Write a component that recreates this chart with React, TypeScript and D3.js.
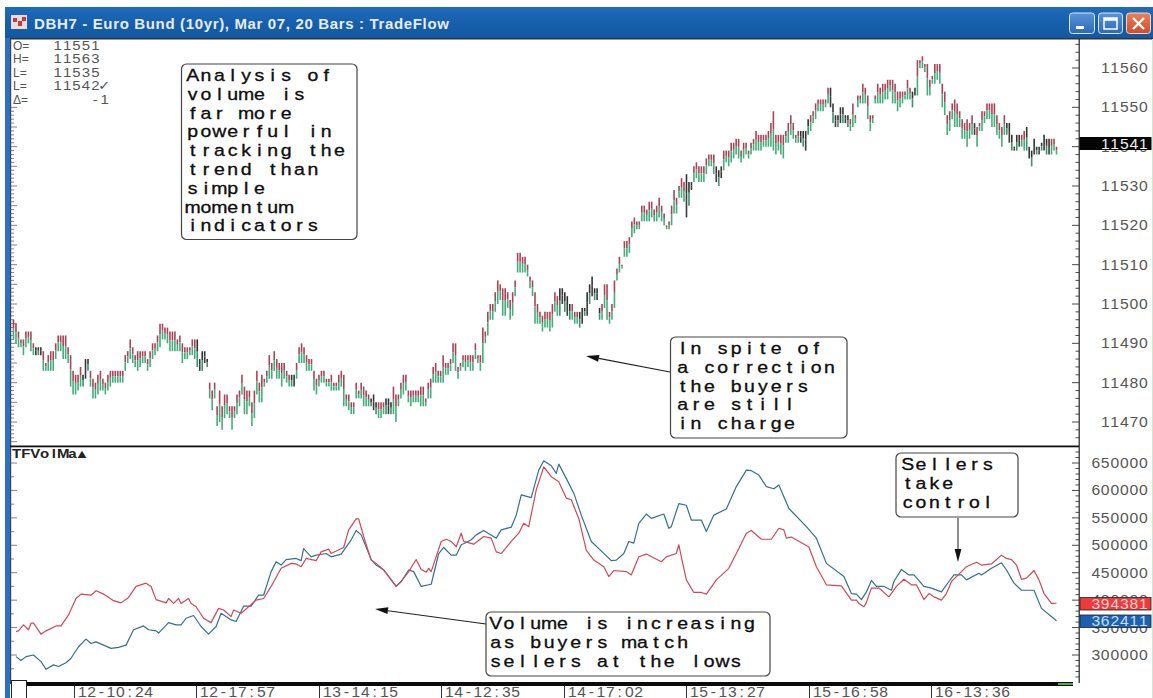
import React from "react";
import * as d3 from "d3";

const W = 1153, H = 698;
const priceBase = 11000;

const barHighs = [
496,495,493,491,491,493,493,493,490,489,489,489,488,485,487,488,488,490,492,492,492,492,489,487,483,482,482,484,482,486,486,483,481,480,482,483,481,480,482,483,483,483,483,483,483,487,488,491,489,487,488,488,488,488,486,488,490,490,492,495,495,494,494,493,493,493,491,492,490,489,489,489,491,491,491,486,488,488,486,
480,478,480,474,478,474,477,477,474,474,474,477,478,482,479,478,478,475,478,483,480,482,481,483,487,485,488,486,485,485,485,483,482,482,482,485,489,490,489,487,486,486,483,481,482,483,483,481,481,482,480,480,482,483,482,477,477,475,475,480,478,480,479,478,477,476,477,475,475,475,475,476,476,475,479,477,
477,480,482,482,478,478,478,478,478,479,479,476,480,481,484,485,483,483,487,485,485,486,490,490,484,485,487,487,487,487,487,490,487,487,494,493,498,500,500,503,506,505,504,504,503,501,503,506,513,513,512,512,510,507,506,503,500,498,497,498,498,498,500,503,502,504,504,503,502,500,500,498,498,498,499,499,503,505,507,504,504,499,500,505,505,498,500,506,509,512,510,516,516,517,
521,522,521,521,525,525,524,526,526,524,525,527,525,523,520,521,525,529,527,530,532,531,533,531,531,535,536,535,535,535,537,538,538,538,535,534,535,539,539,539,541,541,542,542,539,541,541,539,541,542,544,543,543,543,543,544,546,549,543,543,543,543,544,546,548,546,543,544,544,544,544,547,548,549,551,552,552,552,552,555,555,551,548,548,550,550,548,548,547,551,548,553,553,556,555,553,548,548,553,556,555,556,556,557,557,557,556,
554,554,554,554,557,555,554,555,562,562,563,561,561,557,558,561,561,561,556,554,548,549,551,552,551,549,547,546,547,546,548,546,545,546,549,549,551,551,551,551,548,546,545,548,546,546,543,540,543,543,543,544,545,540,539,542,540,540,541,543,542,542,542,542,540];

const barLows = [
491,490,489,489,487,489,490,488,487,487,487,487,483,483,483,483,483,486,488,488,486,486,485,479,477,477,478,479,479,481,483,479,476,476,477,478,478,477,478,479,480,480,480,480,480,483,485,486,485,484,483,484,485,485,483,484,486,487,488,489,491,491,490,488,488,488,488,488,485,486,486,487,487,486,484,483,483,485,484,
476,473,476,469,470,468,471,472,471,468,471,472,474,477,472,472,474,469,471,477,475,475,479,480,481,481,483,481,481,479,481,480,479,479,479,481,485,485,485,483,483,483,478,477,479,480,480,479,479,478,478,478,478,479,474,474,473,472,472,476,476,476,474,474,474,474,473,472,471,471,472,472,472,472,472,470,
474,476,477,478,475,474,475,475,475,474,474,474,476,476,480,480,480,480,480,482,482,483,485,483,481,483,484,483,484,483,483,486,485,483,485,490,492,496,496,498,500,501,497,497,499,496,497,502,508,508,508,508,507,504,502,495,495,495,493,494,494,493,494,498,497,497,500,498,497,496,496,495,495,494,495,497,497,500,502,501,501,496,496,499,496,495,496,499,506,508,509,512,512,513,
517,518,519,519,521,521,521,521,522,521,521,522,521,520,519,519,520,523,523,527,527,526,522,525,529,531,532,531,531,531,533,535,535,533,531,530,532,534,536,535,536,537,538,537,536,537,538,537,538,539,539,539,539,540,540,540,540,539,538,539,538,537,541,541,543,542,541,541,541,540,539,543,544,546,547,549,549,549,550,551,550,546,545,545,546,546,546,545,544,545,546,550,551,551,551,547,544,546,551,551,551,551,552,552,554,551,551,
549,550,551,552,552,552,550,553,553,560,560,559,553,553,556,556,557,556,550,548,543,544,547,545,545,545,542,542,540,542,543,543,540,544,544,546,547,547,545,545,543,542,540,543,543,541,539,539,539,540,540,539,539,537,535,538,538,538,539,539,538,538,538,539,538];

// Bars whose colour is black in the reference, as ranges of bar numbers.
const darkBars = [[9,11],[28,30],[74,78],[112,113],[144,146],[150,152],[220,224],[228,236],[271,273],[283,285],[317,320],[329,336],[362,363],[387,387],[400,405],[408,417]];

const redIdx = [1,2,4,6,7,8,11,13,17,19,22,25,27,31,33,36,40,43,46,49,53,55,57,61,62,64,66,67,70,71,73,76,79,82,84,87,88,91,94,97,100,103,107,111,113,115,117,121,123,126,127,132,134,137,138,140,143,145,148,150,153,155,158,161,163,165,166,167,171,173,175,177,179,180,184,188,191,193,195,199,202,204,206,209,212,215,218,221,223,226,229,232,236,238,240,245,247,250,253,259,261,265,266,267,269,272,275,277,281,286,290,293,295,299,303,306,308,309,311,318,321,325,331,335,337,338,340,341,343,346,350,353,356,359,361,364,366,368,371,373,375,377,379,381,385,387,391,395,397,399,401,403,405,408,410,412,415,417];
const redVol = [343,344,355,346,358,358,338,344,353,353,373,403,411,409,417,411,399,395,405,425,431,425,401,395,403,394,403,394,403,394,388,367,359,385,382,370,382,376,388,400,403,425,458,467,466,461,476,472,488,493,485,496,528,548,548,516,473,467,455,443,425,434,452,474,456,451,458,452,507,511,507,497,522,507,502,516,513,488,485,507,522,540,534,601,643,625,616,586,583,549,491,473,461,443,454,452,446,479,484,470,479,485,501,479,437,414,414,411,437,458,494,522,527,511,511,531,528,513,515,497,461,428,426,400,400,394,388,396,422,422,406,425,438,428,428,401,412,406,400,412,434,443,452,461,469,464,466,482,476,474,464,438,440,454,437,412,394,394.381];

const blueIdx = [1,3,5,8,11,13,16,18,21,23,26,29,31,33,39,42,45,48,52,54,57,58,62,65,67,69,72,75,78,81,83,87,89,92,95,98,100,103,105,107,109,113,115,116,119,121,125,127,131,135,137,139,143,145,148,153,155,158,160,163,167,170,172,175,177,179,181,183,185,188,193,195,199,201,203,207,210,212,215,217,218,221,224,227,231,234,239,241,244,246,248,250,253,255,260,262,263,266,269,271,275,277,280,285,289,293,295,298,301,304,306,310,317,321,325,332,335,337,339,341,343,345,348,351,352,355,358,360,364,367,371,374,376,379,381,386,387,391,395,397,400,403,408,411,417];
const blueVol = [297,290,297,300,288,274,282,279,286,294,315,329,321,324,312,314,318,346,353,346,344,340,359,355,355,367,372,352,338,352,376,364,361,389,389,409,409,452,470,464,474,476,472,494,479,482,485,479,484,510,527,519,474,464,455,425,434,455,452,425,429,485,496,482,482,501,505,510,519,527,513,528,533,555,592,587,637,654,645,631,648,622,595,555,507,494,472,473,485,507,504,540,557,549,557,531,534,576,573,546,546,525,555,566,607,637,636,628,607,603,610,567,534,513,467,443,412,411,401,415,436,425,425,418,434,456,446,446,425,422,415,434,446,446,437,449,446,458,468,455,431,418,418,385,362.411];

const priceTicks = [11560,11550,11540,11530,11520,11510,11500,11490,11480,11470];
const volumeTicks = [650000,600000,550000,500000,450000,400000,350000,300000];
const timeLabels = ["12-10:24","12-17:57","13-14:15","14-12:35","14-17:02","15-13:27","15-16:58","16-13:36"];
const timeTickBars = [24,73,122,171,220,269,318,367];

const legendNames = ["O=","H=","L=","L=","Δ="];
const legendValues = ["11551","11563","11535","11542✓","    -1"];

const notes = [
  { x: 181.5, y: 64, w: 175.5, h: 175.5, tx: 186, ty: 81, lines: ["Analysis of","volume is","far more","powerful in","tracking the","trend than","simple","momentum","indicators"] },
  { x: 670.5, y: 337, w: 176.5, h: 101, tx: 676, ty: 354, lines: ["In spite of","a correction","the buyers","are still","in charge"] },
  { x: 486, y: 612, w: 284, h: 64, tx: 489, ty: 629, lines: ["Volume is increasing","as buyers match","sellers at the lows"] },
  { x: 896, y: 453, w: 122, h: 64, tx: 901, ty: 470, lines: ["Sellers","take","control"] },
];

const priceY = d3.scaleLinear().domain([11470, 11560]).range([422, 68]);
const volY = d3.scaleLinear().domain([300000, 650000]).range([655, 463]);
const barX = d3.scaleLinear().domain([0, barHighs.length - 1]).range([13.5, 1056.5]);
const volX = d3.scaleLinear().domain([0, 417]).range([13.5, 1056.5]);

const sans = "'Liberation Sans',Arial,sans-serif";

function isDark(i: number) {
  return darkBars.some(([a, b]) => i >= a && i <= b);
}

let measureCtx: CanvasRenderingContext2D | null = null;
// x position of every character, each one centred in a cell of the same width
function cellXs(text: string, cell: number, font: string) {
  if (!measureCtx) measureCtx = document.createElement("canvas").getContext("2d");
  const ctx = measureCtx!;
  ctx.font = font;
  return Array.from(text).map((c, i) => (i * cell + (cell - ctx.measureText(c).width) / 2).toFixed(2)).join(" ");
}

function CellText({ x, y, cell, size, text, fill = "#555", weight = "normal", stroke, strokeWidth, stretch = 1 }: {
  x: number; y: number; cell: number; size: number; text: string; fill?: string; weight?: string; stroke?: string; strokeWidth?: number; stretch?: number;
}) {
  const font = `${weight} ${size}px ${sans}`;
  return (
    <text transform={`translate(${x},${y}) scale(${stretch},1)`} x={cellXs(text, cell / stretch, font)} y={0} fontFamily={sans} fontSize={size} fontWeight={weight} fill={fill} stroke={stroke} strokeWidth={strokeWidth} xmlSpace="preserve">
      {text}
    </text>
  );
}

function AxisLabel({ right, y, text, fill = "#555" }: { right: number; y: number; text: string; fill?: string }) {
  const cell = 9.5;
  return <CellText x={right - text.length * cell} y={y} cell={cell} size={14} stretch={1.12} text={text} fill={fill} />;
}

function Arrow({ x1, y1, x2, y2, color = "#222" }: { x1: number; y1: number; x2: number; y2: number; color?: string }) {
  const a = Math.atan2(y2 - y1, x2 - x1);
  const len = 13, half = 3.4;
  const bx = x2 - Math.cos(a) * len, by = y2 - Math.sin(a) * len;
  const nx = -Math.sin(a) * half, ny = Math.cos(a) * half;
  return (
    <g>
      <line x1={x1} y1={y1} x2={bx} y2={by} stroke={color} strokeWidth={1.2} />
      <path d={`M${x2},${y2}L${bx + nx},${by + ny}L${bx - nx},${by - ny}Z`} fill="#111" />
    </g>
  );
}

export default function App() {
  const lineGen = d3.line<[number, number]>().x(d => volX(d[0])).y(d => volY(d[1] * 1000)).curve(d3.curveLinear);
  const redPts = redIdx.map((x, i) => [x, redVol[i]] as [number, number]);
  const bluePts = blueIdx.map((x, i) => [x, blueVol[i]] as [number, number]);

  const priceMinor = d3.range(11462, 11572, 2).filter(p => priceY(p) > 40 && priceY(p) < 445);
  const leftPrice = d3.range(11462, 11572, 1).filter(p => priceY(p) > 106 && priceY(p) < 445);
  const volMinor = d3.range(260000, 680000, 10000).filter(v => volY(v) > 448 && volY(v) < 682);
  const leftVol = d3.range(275000, 700000, 25000).filter(v => volY(v) > 460 && volY(v) < 680);

  return (
    <svg width={W} height={H} style={{ position: "fixed", left: 0, top: 0, background: "#fff" }}>
      <defs>
        <linearGradient id="tb" x1="0" y1="0" x2="0" y2="1">
          <stop offset="0" stopColor="#1e6cba" />
          <stop offset="0.5" stopColor="#175fac" />
          <stop offset="1" stopColor="#14599f" />
        </linearGradient>
        <linearGradient id="closeBtn" x1="0" y1="0" x2="0" y2="1">
          <stop offset="0" stopColor="#e8825a" />
          <stop offset="1" stopColor="#d24a2a" />
        </linearGradient>
        <linearGradient id="winBtn" x1="0" y1="0" x2="0" y2="1">
          <stop offset="0" stopColor="#5a94d6" />
          <stop offset="1" stopColor="#2c69ba" />
        </linearGradient>
        <filter id="soft" x="-2%" y="-2%" width="104%" height="104%">
          <feGaussianBlur stdDeviation="0.4" />
        </filter>
      </defs>

      <rect width={W} height={H} fill="#fff" />

      {/* window frame */}
      <rect x={5} y={7} width={1148} height={31} fill="url(#tb)" />
      <rect x={5} y={38} width={5} height={660} fill="#2a70c4" />
      <rect x={10} y={38} width={1143} height={1.5} fill="#333" />
      <rect x={1152} y={39} width={1} height={659} fill="#cfe8cf" />
      <rect x={11} y={15} width={16} height={14} fill="#e8dcdc" />
      <rect x={13} y={18} width={4} height={4} fill="#c83838" />
      <rect x={18} y={21} width={4} height={5} fill="#c83838" />
      <rect x={22} y={17} width={4} height={4} fill="#c83838" />
      <text x={34} y={29} fontFamily={sans} fontWeight="bold" fontSize={15} letterSpacing={0.65} fill="#e8ecf2">
        DBH7 - Euro Bund (10yr), Mar 07, 20 Bars : TradeFlow
      </text>
      <rect x={1069.5} y={13} width={25} height={20.5} rx={3} fill="url(#winBtn)" stroke="#d8e6f5" />
      <rect x={1076} y={26} width={8} height={3} fill="#fff" />
      <rect x={1098.5} y={13} width={24} height={20.5} rx={3} fill="url(#winBtn)" stroke="#d8e6f5" />
      <rect x={1104} y={18} width={13} height={11} fill="none" stroke="#fff" strokeWidth={1.5} />
      <line x1={1104} y1={19.5} x2={1117} y2={19.5} stroke="#fff" strokeWidth={2.5} />
      <rect x={1126.5} y={13} width={24} height={20.5} rx={3} fill="url(#closeBtn)" stroke="#f0d8d0" />
      <path d="M1133,18L1144,29M1144,18L1133,29" stroke="#fff" strokeWidth={2.4} />

      {/* frame lines */}
      <rect x={10} y={39} width={1.2} height={645} fill="#444" />
      <rect x={1078.6} y={39} width={1.2} height={644} fill="#222" />
      <rect x={10} y={445.5} width={1069} height={1.8} fill="#111" />

      {/* left ticks */}
      {leftPrice.map(p => (
        <line key={p} x1={11} x2={p % 5 === 0 ? 17 : 14} y1={priceY(p)} y2={priceY(p)} stroke="#666" strokeWidth={0.8} />
      ))}
      {leftVol.map(v => (
        <line key={v} x1={11} x2={v % 50000 === 0 ? 17 : 14} y1={volY(v)} y2={volY(v)} stroke="#666" strokeWidth={0.8} />
      ))}
      {/* right ticks */}
      {priceMinor.map(p => (
        <line key={p} x1={p % 10 === 0 ? 1072 : 1075.5} x2={1079} y1={priceY(p)} y2={priceY(p)} stroke="#333" strokeWidth={0.9} />
      ))}
      {volMinor.map(v => (
        <line key={v} x1={v % 50000 === 0 ? 1072 : 1075.5} x2={1079} y1={volY(v)} y2={volY(v)} stroke="#333" strokeWidth={0.9} />
      ))}

      {/* price bars */}
      <g filter="url(#soft)">
        {barHighs.map((h, i) => {
          const hi = priceBase + h, lo = priceBase + barLows[i];
          const x = barX(i);
          const mid = lo + (hi - lo) * 0.55;
          const dark = isDark(i);
          return (
            <g key={i} strokeWidth={1.6}>
              <line x1={x} x2={x} y1={priceY(hi)} y2={priceY(mid)} stroke={dark ? "#333" : "#aa4258"} />
              <line x1={x} x2={x} y1={priceY(mid)} y2={priceY(lo)} stroke={dark ? (i % 2 ? "#3a3a3a" : "#3f8f70") : "#45ad7c"} />
            </g>
          );
        })}
      </g>

      {/* volume lines */}
      <g filter="url(#soft)" fill="none" strokeWidth={1.2} strokeLinejoin="round">
        <path d={lineGen(bluePts) || ""} stroke="#33708f" />
        <path d={lineGen(redPts) || ""} stroke="#cf4a55" />
      </g>

      {/* bottom bar */}
      <rect x={11} y={682} width={1062} height={4} fill="#0a0a0a" />
      <rect x={1058} y={683} width={15} height={2} fill="#4fae4f" />
      <rect x={11.5} y={680.5} width={15} height={18} fill="#fff" stroke="#222" strokeWidth={1} />

      {/* time axis */}
      {timeLabels.map((t, i) => {
        const x = Math.round(volX(timeTickBars[i])) + 0.5;
        return (
          <g key={t}>
            <line x1={x} x2={x} y1={686} y2={698} stroke="#333" />
            <CellText x={x + 3} y={697} cell={9.5} size={14} stretch={1.12} text={t} />
          </g>
        );
      })}

      {/* price axis labels */}
      {priceTicks.map(p => <AxisLabel key={p} right={1148} y={priceY(p) + 5} text={String(p)} />)}
      {volumeTicks.map(v => <AxisLabel key={v} right={1148} y={volY(v) + 5} text={String(v)} />)}

      {/* value tags */}
      <rect x={1079.5} y={137} width={72} height={13} fill="#050505" />
      <AxisLabel right={1148} y={148.5} text="11541" fill="#f0f0f0" />
      <rect x={1080} y={597.5} width={71} height={12.5} fill="#ee3a3a" stroke="#222" strokeWidth={0.8} />
      <AxisLabel right={1148} y={608.8} text="394381" fill="#f6d4d4" />
      <rect x={1080} y={615} width={71} height={12.5} fill="#1f5fb0" stroke="#222" strokeWidth={0.8} />
      <AxisLabel right={1148} y={626.3} text="362411" fill="#bfe0f0" />

      {/* readout */}
      {legendNames.map((n, i) => (
        <g key={i}>
          <text x={13} y={50 + i * 13.4} fontFamily={sans} fontSize={12} fill="#555">{n}</text>
          <CellText x={53} y={50 + i * 13.4} cell={9.4} size={13} stretch={1.15} text={legendValues[i]} />
        </g>
      ))}
      <CellText x={12} y={458} cell={9.3} size={12.5} weight="bold" stretch={1.2} text="TFVolMa▴" fill="#222" />

      {/* annotations */}
      <Arrow x1={670} y1={372} x2={586} y2={356} />
      <Arrow x1={486} y1={624} x2={375} y2={609} />
      <Arrow x1={958} y1={518} x2={958} y2={562} color="#444" />
      {notes.map((n, i) => (
        <g key={i}>
          <rect x={n.x} y={n.y} width={n.w} height={n.h} rx={5} fill="#fff" stroke="#444" strokeWidth={1.2} />
          {n.lines.map((l, j) => (
            <CellText key={j} x={n.tx} y={n.ty + j * 18.8} cell={13.35} size={16.5} stretch={1.18} text={l} fill="#111" stroke="#000" strokeWidth={0.3} />
          ))}
        </g>
      ))}
    </svg>
  );
}
